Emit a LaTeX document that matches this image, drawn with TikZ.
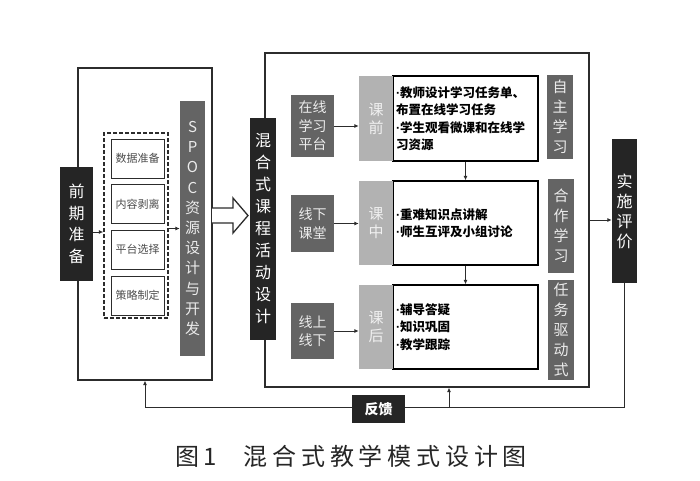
\documentclass[tikz,border=0pt]{standalone}
\usepackage{fontspec}
\setmainfont{Noto Sans CJK SC}
\newfontfamily\capfont[LetterSpace=20]{Noto Sans CJK SC}
\newfontfamily\latinfont{Liberation Sans}
\newcommand\itemdot{{\latinfont\bfseries ·}}
\usetikzlibrary{arrows.meta}

\definecolor{darkfill}{HTML}{252525}
\definecolor{midfill}{HTML}{646464}
\definecolor{lightfill}{HTML}{B2B2B2}
\definecolor{linegray}{HTML}{2C2C2C}

\begin{document}
\begin{tikzpicture}[x=1pt, y=-1pt,
    frame/.style={draw=linegray, line width=1.1pt, inner sep=0pt},
    darkbox/.style={fill=darkfill, text=white, align=center, inner sep=0pt},
    graybox/.style={fill=midfill, text=white!92!black, align=center, inner sep=0pt},
    lightbar/.style={fill=lightfill, text=white!94!black, align=center, inner sep=0pt,
	minimum width=34pt, font=\fontsize{15}{18}\selectfont},
    textbox/.style={draw=black, line width=1.3pt, align=left, text width=139pt,
	inner sep=3pt, minimum width=145pt, font=\bfseries\fontsize{12.5}{17.5}\selectfont},
    stagebox/.style={draw=linegray, line width=0.9pt, inner sep=0pt, text=black!70,
	minimum width=53pt, minimum height=39pt, font=\fontsize{11}{13}\selectfont},
    sidebox/.style={graybox, minimum width=26pt, font=\fontsize{15}{20}\selectfont},
    platbox/.style={graybox, minimum width=43pt, font=\fontsize{14}{18.5}\selectfont},
    arr/.style={-{Latex[length=4.5pt,width=4pt]}, line width=1pt, draw=linegray}]
    \useasboundingbox (0,0) rectangle (700,480);

    \node[frame, minimum width=134pt, minimum height=312pt] (left) at (145,224) {};
    \node[frame, minimum width=324pt, minimum height=334pt] (big) at (427,220) {};

    \node[darkbox, minimum width=33pt, minimum height=114pt,
	font=\fontsize{16}{21.7}\selectfont] (prep) at (76.5,224) {前\\期\\准\\备};
    \node[draw=linegray, line width=1.3pt, dash pattern=on 4pt off 2pt,
	minimum width=64pt, minimum height=185pt] (dash) at (136,225.5) {};
    \node[stagebox] (data) at (137.5,158.5) {数据准备};
    \node[stagebox] (cont) at (137.5,204) {内容剥离};
    \node[stagebox] (plat) at (137.5,249.5) {平台选择};
    \node[stagebox] (strat) at (137.5,295.5) {策略制定};
    \node[graybox, minimum width=25pt, minimum height=255pt,
	font=\fontsize{15}{20.2}\selectfont] (spoc) at (192.5,228.5)
	{S\\P\\O\\C\\资\\源\\设\\计\\与\\开\\发};

    \draw[arr] ([yshift=-8pt]prep.east) -- ([yshift=-8pt]prep.east -| dash.west);
    \draw[arr] (dash.east) ++(0,3) -- (spoc.west |- 0,228.5);

    \draw[line width=1.3pt, draw=linegray, fill=white] (212,208) -- (233,208)
	-- (233,198) -- (248,215.5) -- (233,233) -- (233,223) -- (212,223);

    \node[darkbox, minimum width=26pt, minimum height=222pt,
	font=\fontsize{16}{22}\selectfont] (mix) at (263,229)
	{混\\合\\式\\课\\程\\活\\动\\设\\计};

    \node[platbox, minimum height=62pt] (online) at (312.5,126) {在线\\学习\\平台};
    \node[platbox, minimum height=57pt] (class) at (312.5,223.5) {线下\\课堂};
    \node[platbox, minimum height=56pt] (blend) at (312.5,331) {线上\\线下};

    \node[textbox, minimum height=85pt] (pretxt) at (465.5,118.5)
	{\itemdot 教师设计学习任务单、\\布置在线学习任务\\\itemdot 学生观看微课和在线学\\习资源};
    \node[textbox, minimum height=84pt] (intxt) at (465.5,223)
	{\itemdot 重难知识点讲解\\\itemdot 师生互评及小组讨论};
    \node[textbox, minimum height=84pt] (posttxt) at (465.5,327)
	{\itemdot 辅导答疑\\\itemdot 知识巩固\\\itemdot 教学跟踪};
    \node[lightbar, minimum height=85pt] (pre) at (376,118.5) {课\\前};
    \node[lightbar, minimum height=84pt] (in) at (376,223) {课\\中};
    \node[lightbar, minimum height=84pt] (post) at (376,327) {课\\后};

    \draw[arr] (online.east) -- (online.east -| pre.west);
    \draw[arr] (class.east) -- (class.east -| in.west);
    \draw[arr] (blend.east) -- (blend.east -| post.west);
    \draw[arr] (pretxt.south) -- (intxt.north);
    \draw[arr] (intxt.south) -- (posttxt.north);

    \node[sidebox, minimum height=84pt] (self) at (560,117) {自\\主\\学\\习};
    \node[sidebox, minimum height=94pt] (coop) at (561,226) {合\\作\\学\\习};
    \node[sidebox, minimum height=100pt] (task) at (561,330) {任\\务\\驱\\动\\式};

    \node[darkbox, minimum width=25pt, minimum height=144pt,
	font=\fontsize{16}{20}\selectfont] (eval) at (624.5,211) {实\\施\\评\\价};
    \draw[arr] (big.east) -- (big.east -| eval.west);

    \coordinate (fbl) at (145,407);
    \coordinate (fbm) at (449,407);
    \draw[arr] (eval.south) |- (fbl) -- (left.south);
    \draw[arr] (fbm) -- (fbm |- big.south);
    \node[darkbox, minimum width=53pt, minimum height=28pt,
	font=\bfseries\fontsize{14}{14}\selectfont] (fb) at (378.5,409) {反馈};

    \node[text=black!85, font=\fontsize{24}{24}\selectfont] (cap) at (351,456)
	{\capfont 图1\hspace{1.1em}混合式教学模式设计图};
\end{tikzpicture}
\end{document}
